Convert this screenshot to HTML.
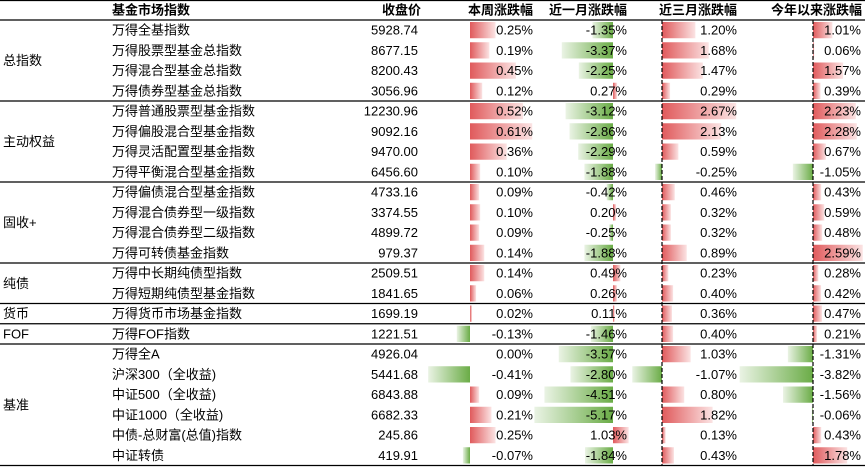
<!DOCTYPE html>
<html><head><meta charset="utf-8">
<style>
html,body{margin:0;padding:0;background:#fff;}
svg{display:block;}
text{font-family:"Liberation Sans","Noto Sans CJK SC",sans-serif;font-size:13px;fill:#000;}
</style></head>
<body>
<svg id="tbl" width="865" height="468" xmlns="http://www.w3.org/2000/svg">
<defs>
<linearGradient id="gRed" x1="0" x2="1" y1="0" y2="0"><stop offset="0" stop-color="#e05a5c"/><stop offset="1" stop-color="#fbe3e3"/></linearGradient>
<linearGradient id="gGreen" x1="0" x2="1" y1="0" y2="0"><stop offset="0" stop-color="#eaf3e4"/><stop offset="1" stop-color="#6aac46"/></linearGradient>
</defs>
</svg>
<script>
const groups = [["总指数",4],["主动权益",4],["固收+",4],["纯债",2],["货币",1],["FOF",1],["基准",6]];
const names = ["万得全基指数","万得股票型基金总指数","万得混合型基金总指数","万得债券型基金总指数","万得普通股票型基金指数","万得偏股混合型基金指数","万得灵活配置型基金指数","万得平衡混合型基金指数","万得偏债混合型基金指数","万得混合债券型一级指数","万得混合债券型二级指数","万得可转债基金指数","万得中长期纯债型指数","万得短期纯债型基金指数","万得货币市场基金指数","万得FOF指数","万得全A","沪深300（全收益)","中证500（全收益)","中证1000（全收益)","中债-总财富(总值)指数","中证转债"];
const closes = ["5928.74","8677.15","8200.43","3056.96","12230.96","9092.16","9470.00","6456.60","4733.16","3374.55","4899.72","979.37","2509.51","1841.65","1699.19","1221.51","4926.04","5441.68","6843.88","6682.33","245.86","419.91"];
const week = [0.25,0.19,0.45,0.12,0.52,0.61,0.36,0.10,0.09,0.10,0.09,0.14,0.14,0.06,0.02,-0.13,0.00,-0.41,0.09,0.21,0.25,-0.07];
const month = [-1.35,-3.37,-2.25,0.27,-3.12,-2.86,-2.29,-1.88,-0.42,0.20,-0.25,-1.88,0.49,0.26,0.11,-1.46,-3.57,-2.80,-4.51,-5.17,1.03,-1.84];
const month3 = [1.20,1.68,1.47,0.29,2.67,2.13,0.59,-0.25,0.46,0.32,0.32,0.89,0.23,0.40,0.36,0.40,1.03,-1.07,0.80,1.82,0.13,0.43];
const ytd = [1.01,0.06,1.57,0.39,2.23,2.28,0.67,-1.05,0.43,0.59,0.48,2.59,0.28,0.42,0.47,0.21,-1.31,-3.82,-1.56,-0.06,0.43,1.78];
const headers = ["基金市场指数","收盘价","本周涨跌幅","近一月涨跌幅","近三月涨跌幅","今年以来涨跌幅"];

const svg = document.getElementById('tbl');
const NS = "http://www.w3.org/2000/svg";
const H0 = 20, RH = 20.25;
const rowY = i => H0 + i*RH;
// column axes: origin x, px per 1%, text right edge
const cols = [
  {data: week, ax: 470, k: 102, tr: 533, key: "week"},
  {data: month, ax: 613, k: 15.2, tr: 627, key: "month"},
  {data: month3, ax: 662, k: 27.8, tr: 737, key: "3m"},
  {data: ytd, ax: 813, k: 19.2, tr: 861, key: "ytd"}
];
function mk(tag, attrs){const e=document.createElementNS(NS,tag);for(const a in attrs)e.setAttribute(a,attrs[a]);svg.appendChild(e);return e;}
function txt(x,y,s,anchor,bold){const t=mk('text',{x:x,y:y,'text-anchor':anchor||'start','dominant-baseline':'central'});if(bold)t.setAttribute('font-weight','bold');t.textContent=s;return t;}

// bars
cols.forEach(c=>{
  c.data.forEach((v,i)=>{
    if(v===0) return;
    const w = Math.abs(v)*c.k;
    const x = v>0 ? c.ax : c.ax - w;
    const r = mk('rect',{x:x,y:rowY(i)+2,width:w,height:RH-4,fill: v>0?'url(#gRed)':'url(#gGreen)'});
    
    
  });
});
// dashed axes
[662,813].forEach(x=>{
  const l = mk('line',{x1:x,x2:x,y1:H0,y2:rowY(22),stroke:'#000','stroke-width':1.2,'stroke-dasharray':'4,2'});
  
  
});
// header
const hx = [[112,'start'],[421,'end'],[533,'end'],[627,'end'],[737,'end'],[862,'end']];
headers.forEach((h,i)=>{
  const t = txt(hx[i][0],10,h,hx[i][1],true);
  
  
});
// rows
names.forEach((n,i)=>{
  const cy = rowY(i)+RH/2;
  const t1 = txt(112,cy,n);
  
  
  const t2 = txt(418,cy,closes[i],'end');
  
  
  cols.forEach(c=>{
    const t = txt(c.tr,cy,c.data[i].toFixed(2)+'%','end');
    
    
  });
});
// groups & separators
let start = 0;
const sepTop = mk('line',{x1:0,x2:865,y1:0.5,y2:0.5,stroke:'#000','stroke-width':1.2});


const sepH = mk('line',{x1:0,x2:865,y1:H0,y2:H0,stroke:'#000','stroke-width':1.2});


groups.forEach(g=>{
  const y0 = rowY(start), y1 = rowY(start+g[1]);
  const t = txt(3,(y0+y1)/2,g[0]);
  
  
  const l = mk('line',{x1:0,x2:865,y1:y1,y2:y1,stroke:'#000','stroke-width':1.2});
  
  
  start += g[1];
});
</script>
</body></html>
